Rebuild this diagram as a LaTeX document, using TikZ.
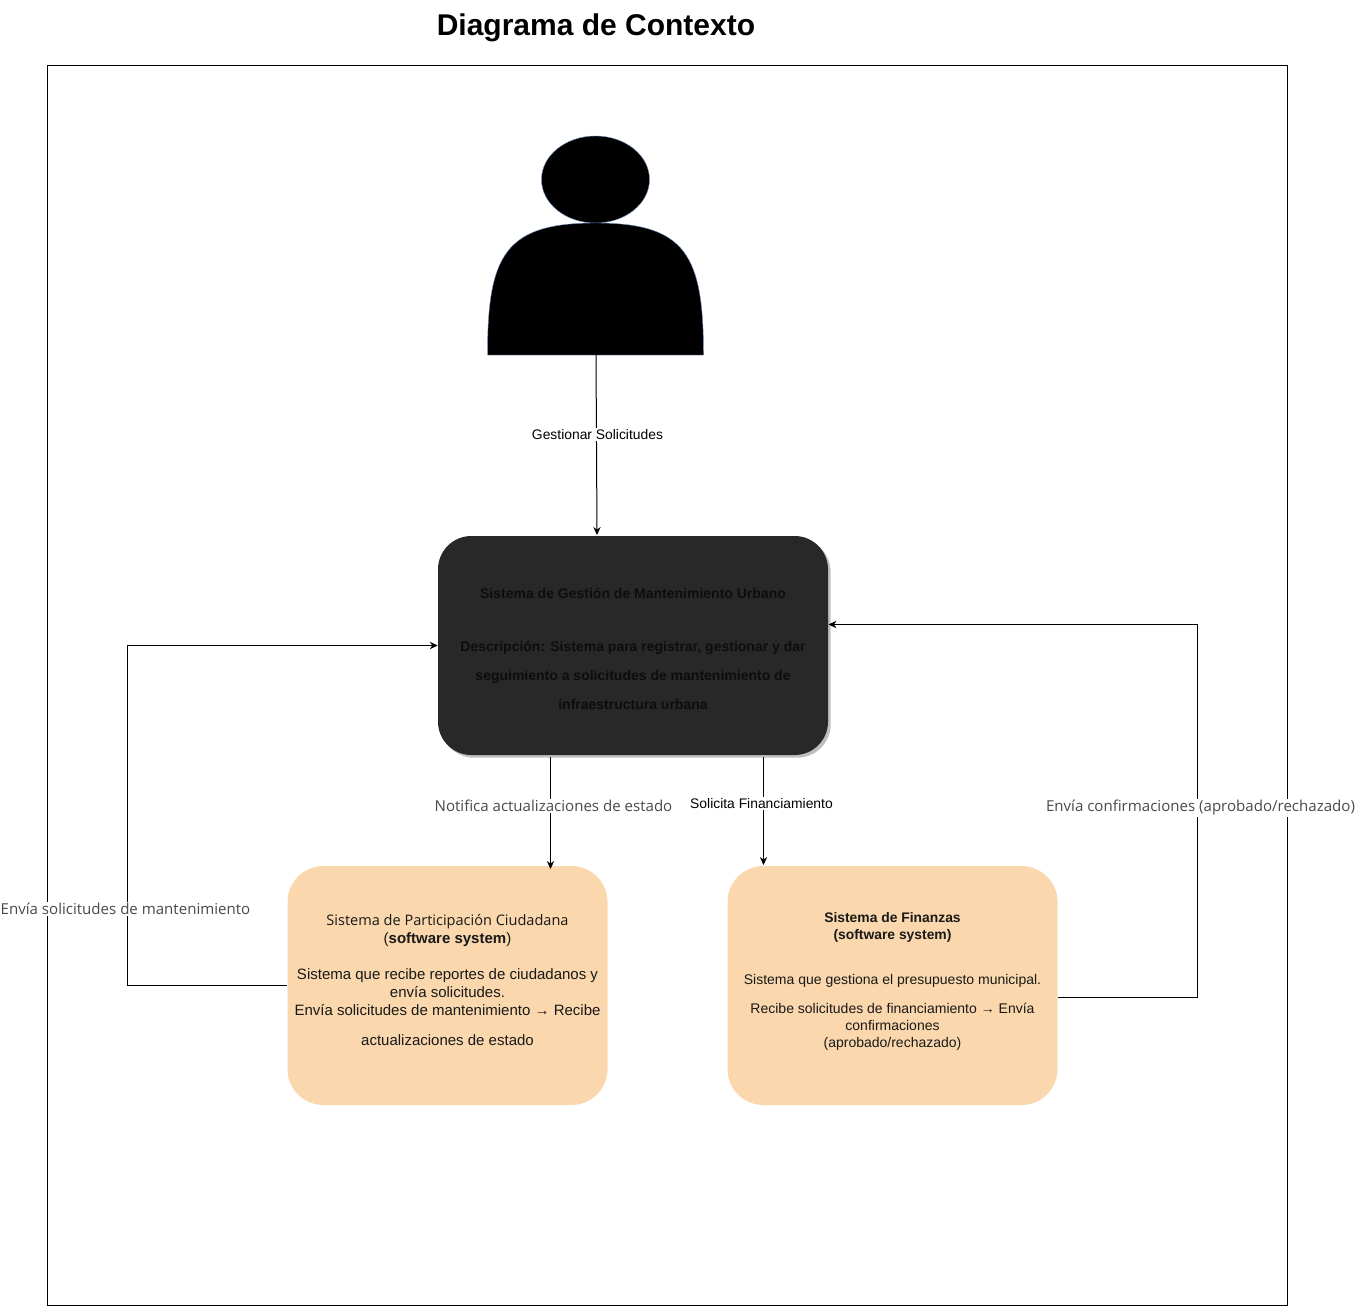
\documentclass[tikz,border=0pt]{standalone}
\usepackage{fontspec}
\setmainfont{Liberation Sans}
\newfontfamily\labelfont{Open Sans}
\usetikzlibrary{arrows.meta,shadows,shapes.geometric}
\definecolor{boxdark}{HTML}{282828}
\definecolor{boxorange}{HTML}{FAD7AC}
\definecolor{personedge}{HTML}{6C8EBF}
\definecolor{labelgray}{HTML}{4A4A4A}
\tikzset{
  link/.style={draw=black,line width=0.75pt,-{Stealth[length=6pt,width=5.5pt]}},
  txtlabel/.style={fill=white,inner sep=1pt,font=\fontsize{10.4}{12}\selectfont},
  graylabel/.style={fill=white,inner sep=1pt,text=labelgray,font=\labelfont\fontsize{11.3}{13}\selectfont},
  softbox/.style={fill=boxorange,rounded corners=27pt,align=center,inner sep=0pt,text=black!90},
}
\begin{document}
\begin{tikzpicture}[x=0.75pt,y=0.75pt,yscale=-1,xscale=1]
\useasboundingbox (0,0) rectangle (1355,1306);

% Frame
\draw [line width=0.75pt] (47.5,66) rectangle (1287.5,1305.5);
% Title
\node (title) at (596,28) {\fontsize{22.5}{26}\selectfont\bfseries Diagrama de Contexto};

% Person
\node (personHead) [ellipse,draw=personedge,fill=black,line width=0.3pt,minimum width=81pt,minimum height=65.25pt,inner sep=0pt] at (595.5,179.5) {};
\draw [draw=personedge,fill=black,line width=0.3pt] (487.5,355) .. controls (487.5,255) and (505,223) .. (595.5,223) .. controls (686,223) and (703.5,255) .. (703.5,355) -- cycle;
\coordinate (personFoot) at (596,355);

% Systems
\node (sysGestion) [fill=boxdark,rounded corners=25pt,minimum width=292.5pt,minimum height=164.25pt,align=center,inner sep=0pt,text=black!95,drop shadow={shadow xshift=2pt,shadow yshift=-2pt,fill=black!25,opacity=1},font=\fontsize{10.5}{13}\selectfont\bfseries] at (633,645.5)
{\mbox{}\\[-0.5pt]Sistema de Gestión de Mantenimiento Urbano\\[27pt]
Descripción: Sistema para registrar, gestionar y dar\\[8.5pt]
seguimiento a solicitudes de mantenimiento de\\[8.5pt]
infraestructura urbana};

\node (sysCiudad) [softbox,minimum width=240pt,minimum height=179.25pt,font=\fontsize{11.25}{13.5}\selectfont] at (447.5,985.5)
{{\labelfont\fontsize{10.9}{13.5}\selectfont Sistema de Participación Ciudadana}\\
(\textbf{software system})\\[13.5pt]
Sistema que recibe reportes de ciudadanos y\\
envía solicitudes.\\
Envía solicitudes de mantenimiento → Recibe\\[9pt]
actualizaciones de estado\\[-5pt]\mbox{}};

\node (sysFinanzas) [softbox,minimum width=247.5pt,minimum height=179.25pt,font=\fontsize{10.5}{12.75}\selectfont] at (892.5,985.5)
{\textbf{\fontsize{10.4}{12.75}\selectfont Sistema de Finanzas}\\
\textbf{\fontsize{10.4}{12.75}\selectfont (software system)}\\[21pt]
Sistema que gestiona el presupuesto municipal.\\[9pt]
Recibe solicitudes de financiamiento → Envía\\
confirmaciones\\
(aprobado/rechazado)\\[-4pt]\mbox{}};

% Connector ends
\coordinate (gestionTop) at (597,535);
\coordinate (notificaStart) at (550.5,757);
\coordinate (notificaEnd) at (550.5,869);
\coordinate (solicitaStart) at (763.5,757);
\coordinate (solicitaEnd) at (763.5,865);
\coordinate (ciudadCorner) at (127.5,985.5);
\coordinate (gestionCorner) at (127.5,645.5);
\coordinate (finanzasExit) at (1058,997);
\coordinate (finanzasCorner) at (1197.5,997);
\coordinate (confirmaCorner) at (1197.5,624.5);
\coordinate (gestionRight) at (828.5,624.5);

% Connectors
\draw [link] (personFoot) -- (gestionTop);
\draw [link] (notificaStart) -- (notificaEnd);
\draw [link] (solicitaStart) -- (solicitaEnd);
\draw [link] (sysCiudad.west) -- (ciudadCorner) -- (gestionCorner) -- (sysGestion.west);
\draw [link] (finanzasExit) -- (finanzasCorner) -- (confirmaCorner) -- (gestionRight);

% Labels
\node (lblGestionar) [txtlabel] at (597.5,434.5) {Gestionar Solicitudes};
\node (lblSolicita) [txtlabel] at (761.5,803.5) {Solicita Financiamiento};
\node (lblNotifica) [graylabel] at (553.5,806) {Notifica actualizaciones de estado};
\node (lblEnvia) [graylabel] at (125.5,909) {Envía solicitudes de mantenimiento};
\node (lblConfirma) [graylabel] at (1200.5,808) {Envía confirmaciones (aprobado/rechazado)};

\end{tikzpicture}
\end{document}
